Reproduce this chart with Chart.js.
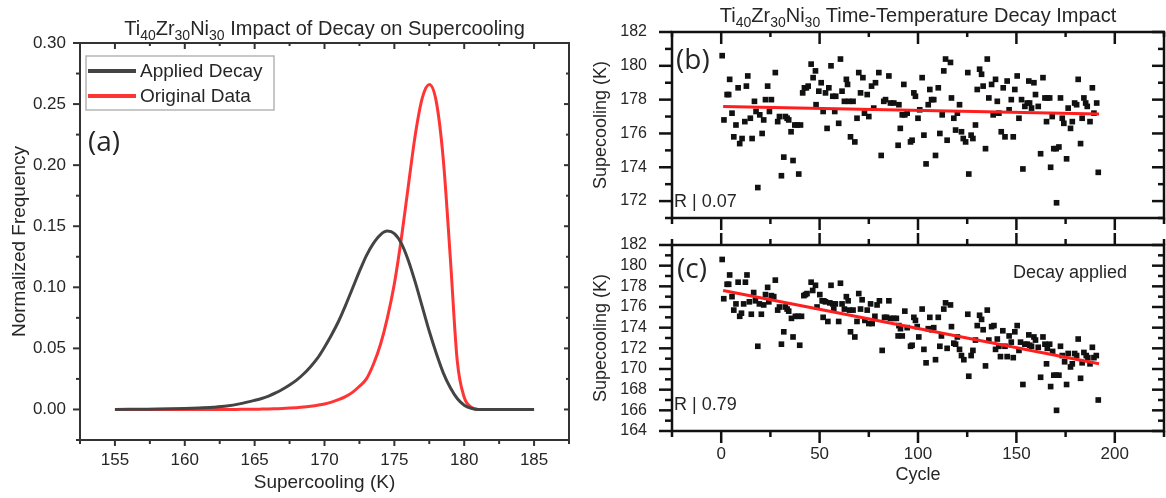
<!DOCTYPE html>
<html>
<head>
<meta charset="utf-8">
<script src="https://cdn.jsdelivr.net/npm/chart.js@4.4.1/dist/chart.umd.min.js"></script>
<style>
  html, body { margin: 0; padding: 0; background: #fff; }
  #wrap { position: relative; width: 1166px; height: 498px; overflow: hidden; }
  canvas { position: absolute; }
  #cA { left: 0; top: 0; }
  #cB { left: 590px; top: 0; }
  #cC { left: 590px; top: 232px; }
</style>
</head>
<body>
<div id="wrap">
  <canvas id="cA" width="590" height="498"></canvas>
  <canvas id="cB" width="576" height="232"></canvas>
  <canvas id="cC" width="576" height="266"></canvas>
</div>
<script>
// ---- panel (a): distributions ----
const coolingK = [155,156,157,158,159,160,161,162,163,164,
  165,165.5,166,166.5,167,167.5,168,168.5,169,169.5,170,170.5,171,171.5,172,172.5,
  173,173.5,174,174.5,175,175.5,176,176.5,177,177.5,178,178.5,179,179.5,180,180.5,181,
  182,183,184,185];
const appliedDecay = [0,0.0001,0.0002,0.0003,0.0005,0.0008,0.0012,0.0018,0.0028,0.0048,
  0.0075,0.009,0.011,0.0135,0.0165,0.020,0.024,0.029,0.035,0.042,0.051,0.061,0.072,0.085,0.099,0.113,
  0.126,0.136,0.143,0.146,0.144,0.136,0.122,0.104,0.084,0.064,0.046,0.030,0.018,0.009,0.0035,0.001,0,
  0,0,0,0];
const originalData = [0,0,0,0,0,0,0,0,0,0.0001,
  0.0002,0.0003,0.0004,0.0006,0.0008,0.0011,0.0015,0.002,0.0027,0.0035,0.0045,0.006,0.008,0.0105,0.014,0.019,
  0.025,0.037,0.053,0.075,0.103,0.140,0.183,0.225,0.255,0.266,0.252,0.205,0.125,0.040,0.010,0.002,0,
  0,0,0,0];
const xTicksA = [155,160,165,170,175,180,185];
const yTicksA = [0,0.05,0.10,0.15,0.20,0.25,0.30];

// ---- panels (b) and (c): supercooling per cycle ----
const cyclesB = [0.5,1.4,3,3.8,4.3,5.5,6.4,7.5,8.6,9.4,10.6,12,12.8,13.5,14.8,15.7,16.9,17.7,18.6,19.6,
  20.8,21.6,22.5,23.6,24.5,25.5,27.5,28.7,29.6,30.6,31.8,32.6,33.5,34.3,35.5,36.5,37.4,38.6,39.4,40.3,
  41.4,42.3,43.3,44.2,45.7,46.7,47.9,48.2,49.6,50.8,51.8,53,53.8,54.7,55.8,56.7,57.7,58.2,59.7,60.6,
  61.4,62.6,63.6,64.2,64.8,65.7,67,67.9,69,69.9,70.8,72,72.8,74.2,75,76.4,77.5,78.4,80.1,81.3,
  82.6,83.5,85.2,86,87.7,89.9,90.3,91,92,92.8,93.3,94.5,96.2,97,97.9,98.7,100,100.9,102.1,103,
  104.1,105.2,106,106.9,108,108.9,110.3,111.1,112.3,113.1,114,114.8,116.5,117,118.2,119.1,120,121.1,122.1,123,
  124.2,125.3,125.8,127,127.9,129.2,130.1,131.3,132.3,133.1,134.3,135.2,136,137.4,138.2,139.4,140.3,141.1,142.3,143.3,
  144.2,145.3,146.3,147.4,148.4,149.2,150.4,151.3,152.6,153.3,154.3,155.5,156.3,156.7,157.7,158.9,159.7,161.1,162.3,163.5,
  164.5,165.3,165.7,166.9,167.4,168.2,169,170.2,170.4,171.6,172.4,173.3,174.1,175.5,176.3,177.5,178.4,179.6,180.6,181.4,
  182.6,183.4,184.3,185.2,186,187.4,188.6,189.4,190.8,191.6];
const supercoolingB = [180.6,176.8,178.3,178.3,179.2,177.2,175.8,176.5,178.7,175.4,175.7,176.7,178.8,179.4,176.9,175.7,177.9,177.3,172.8,177.1,
  176.0,176.8,178.0,178.8,177.3,178.0,179.6,176.7,177.0,173.5,174.6,177.0,176.9,176.8,176.1,174.4,176.5,176.5,173.6,176.5,
  178.4,178.7,178.7,178.8,180.1,179.3,179.7,177.7,178.5,179.0,177.3,178.4,176.3,178.7,180.0,178.2,177.3,178.2,176.6,180.4,
  178.5,177.9,179.2,178.9,177.9,175.8,177.9,175.5,176.9,179.6,178.4,179.3,177.2,178.3,177.0,178.8,177.5,179.0,179.6,174.7,
  177.9,178.0,179.4,177.8,177.8,175.3,177.7,176.3,177.1,178.9,177.1,177.2,175.5,175.6,178.4,178.2,176.9,177.4,179.3,175.9,
  174.2,177.7,178.6,178.0,178.0,174.7,178.7,176.0,177.1,179.7,180.4,175.6,180.2,178.1,176.9,176.2,177.2,177.7,176.1,175.7,
  175.5,179.6,173.6,175.9,175.7,176.5,178.6,179.8,179.5,178.8,175.1,180.4,178.1,178.9,177.1,179.2,177.9,177.2,176.1,178.7,
  175.8,179.1,177.4,178.0,175.8,178.6,179.4,176.9,178.0,173.9,177.6,177.8,179.1,177.8,177.5,179.0,178.3,177.6,174.8,179.3,
  178.1,176.7,178.1,178.1,174.0,177.0,175.1,175.1,171.9,175.2,178.1,176.9,176.6,174.5,177.5,176.3,176.7,177.8,177.7,179.2,
  175.4,176.9,178.1,177.8,177.6,176.7,178.7,177.2,177.8,173.7];

const cyclesC = [0.5,1.3,3,3.8,4.3,5.5,6.4,7.5,8.6,9.4,10.3,11.4,12.3,13.1,14.3,15.3,16.5,17.4,18.6,19.4,
  20.4,21.6,22.5,23.6,24.2,25.5,26.7,27.5,28.7,29.6,30.6,31.8,32.6,33.5,34.3,35.7,36.5,37.7,39.1,39.9,
  40.8,42,42.8,43.6,45.7,46.5,47.9,48.7,50.1,51.3,51.8,52.1,53,54.2,55.2,55.8,56.7,57.2,58,59.7,
  60.6,61.4,62.6,63.6,64.5,65.2,65.7,67,67.9,69,69.9,70.8,71.6,73,74.2,75,75.9,76.7,78.1,79.2,
  80.4,81.8,83,84,85.2,86,87.7,89,89.9,90.3,91.1,92,93.3,94.5,96.2,97,97.9,98.7,99.6,100.4,
  102.1,103,104.1,105.2,106,106.9,108,108.9,110.3,111.1,111.9,113.1,114,114.8,116.5,117,118.2,119.1,120,121.1,
  122.1,123.3,125.3,125.8,127,127.9,129.2,130.1,131.3,132.3,133.1,134.3,135.2,136,137.4,138.6,139.4,140.3,141.1,141.9,
  143.1,144.2,145.3,146.3,147.4,148.4,149.2,150.4,151.3,152.1,153.3,154.3,155.5,156.3,156.7,157.7,158.9,159.7,161.1,162.3,
  163.5,164.5,165.3,165.7,166.9,167.4,168.4,169,170.2,170.4,171.6,172.4,173.3,174.5,175.5,176.3,177.5,178.4,179.6,180.6,
  181.4,182.6,183.4,184.3,185.5,186.3,187.4,188.6,189.4,190.6,191.6];
const supercoolingC = [180.6,176.8,178.2,178.2,179.1,177.0,175.7,176.3,178.4,175.1,175.4,176.3,178.4,179.1,176.5,175.3,177.4,176.6,172.2,176.3,
  175.3,176.2,177.2,177.9,176.5,177.1,177.0,178.6,175.7,176.0,172.4,173.6,176.0,175.8,175.6,174.9,173.1,175.1,175.1,172.3,
  175.1,177.1,177.2,177.3,178.4,177.6,178.1,176.0,177.2,176.6,175.0,176.6,176.5,174.6,176.4,178.1,176.3,175.8,176.3,174.6,
  178.3,176.3,175.8,177.0,176.6,175.7,173.6,175.7,173.1,174.6,177.3,175.8,176.7,174.7,175.7,174.4,176.3,174.4,175.1,176.2,
  176.6,171.8,175.0,175.0,176.6,174.9,174.9,174.9,173.2,174.2,173.9,173.2,175.6,174.0,172.2,172.3,175.0,174.7,174.1,173.1,
  175.8,171.9,170.6,173.9,175.0,173.8,174.0,170.9,175.0,172.2,173.2,175.8,176.4,172.0,176.2,174.1,172.5,172.4,173.1,171.9,
  171.3,170.9,175.3,169.3,171.3,171.8,172.8,174.2,175.2,174.8,173.8,170.3,175.7,172.8,174.1,174.2,171.9,172.9,172.2,171.2,
  173.7,172.2,171.2,173.2,172.6,171.1,173.6,174.2,171.8,172.6,168.5,172.4,172.4,173.3,172.3,172.2,173.1,172.8,172.1,169.2,
  173.1,172.4,170.5,172.0,172.4,168.3,171.7,169.4,169.4,166.0,169.4,172.2,171.3,170.7,168.5,171.5,170.2,170.5,171.5,171.3,
  172.9,169.1,170.6,171.6,171.3,171.1,170.5,172.1,171.1,171.3,167.0];

// linear fits
const fitCycles = [1, 192];
const fitB = [177.6, 177.15];
const fitC = [177.6, 170.5];

const xTicksBC = [0, 50, 100, 150, 200];
const yTicksB = [172, 174, 176, 178, 180, 182];
const yTicksC = [164, 166, 168, 170, 172, 174, 176, 178, 180, 182];

const titleA = [['Ti'], ['40', 1], ['Zr'], ['30', 1], ['Ni'], ['30', 1], [' Impact of Decay on Supercooling']];
const titleB = [['Ti'], ['40', 1], ['Zr'], ['30', 1], ['Ni'], ['30', 1], [' Time-Temperature Decay Impact']];

const FONT = "'Liberation Sans', Arial, sans-serif";
Chart.defaults.font.family = FONT;
Chart.defaults.color = '#262626';

function midpoints(arr) {
    const step = arr[1] - arr[0];
    const out = [arr[0] - step / 2];
    arr.forEach(v => out.push(v + step / 2));
    return out;
}

function toXY(xs, ys) {
    return xs.map((x, i) => ({ x: x, y: ys[i] }));
}

// fixed axis sizes; label padding must not push the plot box around
function fixX(h) {
    return s => { s.height = h; s.paddingLeft = 0; s.paddingRight = 0; };
}
function fixY(w) {
    return s => { s.width = w; s.paddingTop = 0; s.paddingBottom = 0; };
}

// box round the plot with inward / outward ticks
const framePlugin = {
    id: 'frame',
    afterDatasetsDraw(chart, args, o) {
        const ctx = chart.ctx;
        const a = chart.chartArea;
        const xs = chart.scales.x, ys = chart.scales.y;
        ctx.save();
        ctx.strokeStyle = o.color;
        ctx.lineWidth = o.width;
        ctx.lineCap = 'butt';
        ctx.strokeRect(a.left, a.top, a.right - a.left, a.bottom - a.top);
        const xMajor = xs.ticks.map(t => t.value);
        const yMajor = ys.ticks.map(t => t.value);
        const draw = (side, values, len) => {
            values.forEach(v => {
                ctx.beginPath();
                if (side === 'bottom' || side === 'top') {
                    const px = xs.getPixelForValue(v);
                    if (px < a.left - 0.5 || px > a.right + 0.5) return;
                    const base = side === 'bottom' ? a.bottom : a.top;
                    const sign = side === 'bottom' ? 1 : -1;
                    ctx.moveTo(px, base);
                    ctx.lineTo(px, base + sign * len);
                } else {
                    const py = ys.getPixelForValue(v);
                    if (py < a.top - 0.5 || py > a.bottom + 0.5) return;
                    const base = side === 'left' ? a.left : a.right;
                    const sign = side === 'left' ? -1 : 1;
                    ctx.moveTo(base, py);
                    ctx.lineTo(base + sign * len, py);
                }
                ctx.stroke();
            });
        };
        ['bottom', 'top', 'left', 'right'].forEach(side => {
            const s = o[side];
            if (!s) return;
            const isX = side === 'bottom' || side === 'top';
            draw(side, isX ? xMajor : yMajor, s[0]);
            draw(side, isX ? o.xMinor : o.yMinor, s[1]);
        });
        ctx.restore();
    }
};

// title with subscripts
const subTitlePlugin = {
    id: 'subTitle',
    afterDraw(chart, args, o) {
        if (!o.parts || !o.parts.length) return;
        const ctx = chart.ctx;
        const a = chart.chartArea;
        const big = o.size + 'px ' + FONT;
        const small = Math.round(o.size * 0.68) + 'px ' + FONT;
        ctx.save();
        ctx.fillStyle = '#262626';
        ctx.textBaseline = 'alphabetic';
        let w = 0;
        o.parts.forEach(p => { ctx.font = p[1] ? small : big; w += ctx.measureText(p[0]).width; });
        let x = (a.left + a.right) / 2 - w / 2;
        o.parts.forEach(p => {
            ctx.font = p[1] ? small : big;
            ctx.fillText(p[0], x, o.y + (p[1] ? o.size * 0.27 : 0));
            x += ctx.measureText(p[0]).width;
        });
        ctx.restore();
    }
};

// free text inside the panels
const notesPlugin = {
    id: 'notes',
    afterDraw(chart, args, o) {
        const ctx = chart.ctx;
        ctx.save();
        ctx.fillStyle = '#262626';
        ctx.textBaseline = 'middle';
        ctx.textAlign = 'left';
        (o.items || []).forEach(n => {
            ctx.font = n.font;
            ctx.fillText(n.text, n.x, n.y);
        });
        ctx.restore();
    }
};

// legend box for panel (a)
const legendBoxPlugin = {
    id: 'legendBox',
    afterDraw(chart, args, o) {
        if (!o.w) return;
        const ctx = chart.ctx;
        ctx.save();
        ctx.fillStyle = '#fff';
        ctx.fillRect(o.x, o.y, o.w, o.h);
        ctx.strokeStyle = '#b5b5b5';
        ctx.lineWidth = 1.5;
        ctx.strokeRect(o.x, o.y, o.w, o.h);
        ctx.font = o.size + 'px ' + FONT;
        ctx.textBaseline = 'middle';
        chart.data.datasets.forEach((ds, i) => {
            const y = o.y + o.rowTop + i * o.rowGap;
            ctx.strokeStyle = ds.borderColor;
            ctx.lineWidth = 4;
            ctx.beginPath();
            ctx.moveTo(o.x + 2, y);
            ctx.lineTo(o.x + 50, y);
            ctx.stroke();
            ctx.fillStyle = '#262626';
            ctx.fillText(ds.label, o.x + 54, y + 1);
        });
        ctx.restore();
    }
};

const plugins = [framePlugin, subTitlePlugin, notesPlugin, legendBoxPlugin];

// ---------- (a) ----------
new Chart(document.getElementById('cA'), {
    type: 'line',
    data: {
        datasets: [
            { label: 'Applied Decay', data: toXY(coolingK, appliedDecay), borderColor: '#444444',
              borderWidth: 3, pointRadius: 0, cubicInterpolationMode: 'monotone', fill: false },
            { label: 'Original Data', data: toXY(coolingK, originalData), borderColor: '#ff3535',
              borderWidth: 3, pointRadius: 0, cubicInterpolationMode: 'monotone', fill: false }
        ]
    },
    options: {
        responsive: false,
        animation: false,
        events: [],
        layout: { autoPadding: false, padding: { top: 43, right: 21, left: 0, bottom: 0 } },
        plugins: {
            legend: { display: false },
            tooltip: { enabled: false },
            frame: { color: '#333', width: 2, xMinor: midpoints(xTicksA), yMinor: midpoints(yTicksA),
                     bottom: [6, 4], top: [-6, -3], left: [7, 4], right: [-5, -3] },
            subTitle: { parts: titleA, size: 20, y: 35 },
            notes: { items: [{ text: '(a)', x: 88, y: 143, font: "28px 'Open Sans', sans-serif" }] },
            legendBox: { x: 86, y: 56, w: 188, h: 54, rowTop: 15, rowGap: 25, size: 19 }
        },
        scales: {
            x: {
                type: 'linear', min: 152.5, max: 187.5,
                afterBuildTicks: s => { s.ticks = xTicksA.map(v => ({ value: v })); },
                afterFit: fixX(58),
                grid: { display: false, drawTicks: false },
                border: { display: false },
                ticks: { padding: 10, font: { size: 17 }, color: '#262626', autoSkip: false, maxRotation: 0 },
                title: { display: true, text: 'Supercooling (K)', font: { size: 19 }, padding: { top: 0, bottom: 4 } }
            },
            y: {
                type: 'linear', min: -0.025, max: 0.30,
                afterBuildTicks: s => { s.ticks = yTicksA.map(v => ({ value: v })); },
                afterFit: fixY(80),
                grid: { display: false, drawTicks: false },
                border: { display: false },
                ticks: { padding: 14, font: { size: 17 }, color: '#262626', autoSkip: false, callback: v => v.toFixed(2) },
                title: { display: true, text: 'Normalized Frequency', font: { size: 19 }, padding: { top: 8, bottom: 0 } }
            }
        }
    },
    plugins: plugins
});

// ---------- (b) and (c) ----------
function cyclePanel(canvasId, cycles, values, fit, yTicks, yMin, opts) {
    return new Chart(document.getElementById(canvasId), {
        type: 'scatter',
        data: {
            datasets: [
                { label: 'fit', type: 'line', data: toXY(fitCycles, fit), borderColor: '#ff1e1e',
                  borderWidth: 3, pointRadius: 0, order: 0 },
                { label: 'data', data: toXY(cycles, values), backgroundColor: '#111', borderWidth: 0,
                  pointStyle: 'rect', pointRadius: 4, order: 1 }
            ]
        },
        options: {
            responsive: false,
            animation: false,
            events: [],
            layout: { autoPadding: false, padding: { top: opts.padTop, right: 2, left: 0, bottom: 0 } },
            plugins: {
                legend: { display: false },
                tooltip: { enabled: false },
                frame: Object.assign({ color: '#111', width: 2.5, xMinor: midpoints(xTicksBC), yMinor: midpoints(yTicks),
                                       right: [-12, -6], left: [13, 7], bottom: [12, 6] }, opts.frame),
                subTitle: opts.title,
                notes: { items: opts.notes },
                legendBox: {}
            },
            scales: {
                x: {
                    type: 'linear', min: -25, max: 225,
                    afterBuildTicks: s => { s.ticks = xTicksBC.map(v => ({ value: v })); },
                    afterFit: fixX(opts.xHeight),
                    grid: { display: false, drawTicks: false },
                    border: { display: false },
                    ticks: { display: opts.showX, padding: 13, font: { size: 17 }, color: '#262626', autoSkip: false, maxRotation: 0 },
                    title: { display: opts.showX, text: 'Cycle', font: { size: 18 }, padding: { top: 0, bottom: 12 } }
                },
                y: {
                    type: 'linear', min: yMin, max: 182,
                    afterBuildTicks: s => { s.ticks = yTicks.map(v => ({ value: v })); },
                    afterFit: fixY(82),
                    grid: { display: false, drawTicks: false },
                    border: { display: false },
                    ticks: { padding: 25, font: { size: 16 }, color: '#262626', autoSkip: false },
                    title: { display: true, text: 'Supecooling (K)', font: { size: 18 }, padding: { top: 0, bottom: 0 } }
                }
            }
        },
        plugins: plugins
    });
}

cyclePanel('cB', cyclesB, supercoolingB, fitB, yTicksB, 171, {
    padTop: 32, xHeight: 14, showX: false,
    frame: { top: [-12, -5] },
    title: { parts: titleB, size: 20, y: 22 },
    notes: [
        { text: '(b)', x: 86, y: 61, font: "28px 'Open Sans', sans-serif" },
        { text: 'R | 0.07', x: 84, y: 202, font: '18px ' + FONT }
    ]
});

cyclePanel('cC', cyclesC, supercoolingC, fitC, yTicksC, 164, {
    padTop: 13, xHeight: 67, showX: true,
    frame: { top: [12, 6] },
    title: { parts: [], size: 20, y: 0 },
    notes: [
        { text: '(c)', x: 87, y: 38, font: "28px 'Open Sans', sans-serif" },
        { text: 'R | 0.79', x: 84, y: 173, font: '18px ' + FONT },
        { text: 'Decay applied', x: 423, y: 41, font: '18px ' + FONT }
    ]
});
</script>
</body>
</html>
